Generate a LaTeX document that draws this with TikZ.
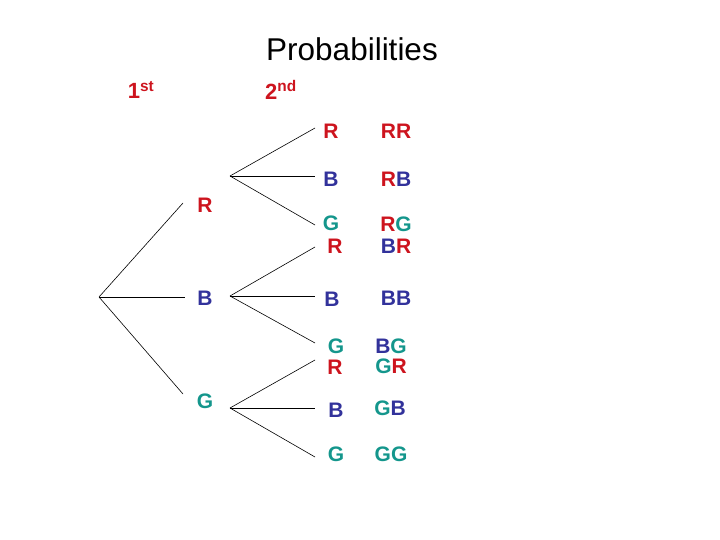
\documentclass[tikz,border=0pt]{standalone}
\usepackage{fontspec}
\setmainfont{Liberation Sans}
\usepackage{xcolor}
\usepackage{tikz}
\definecolor{ballred}{RGB}{205,20,30}
\definecolor{ballblue}{RGB}{50,50,155}
\definecolor{ballgreen}{RGB}{20,150,140}
\newcommand{\cR}{{\color{ballred}R}}
\newcommand{\cB}{{\color{ballblue}B}}
\newcommand{\cG}{{\color{ballgreen}G}}

\begin{document}
\begin{tikzpicture}[
  x=1pt, y=-1pt,
  lbl/.style={inner sep=0pt, font=\fontsize{21}{24}\selectfont\bfseries},
  head/.style={inner sep=0pt, font=\fontsize{22}{26}\selectfont\bfseries, text=ballred},
  branch/.style={line width=0.6pt}
]
  \useasboundingbox (0,0) rectangle (720,540);
  \node[inner sep=0pt, font=\fontsize{31.5}{36}\selectfont] (title) at (352,49) {Probabilities};
  \node[head] (first)  at (141,90) {1\textsuperscript{st}};
  \node[head] (second) at (281,90) {2\textsuperscript{nd}};

  % first draw
  \coordinate (root) at (99,297);
  \coordinate (r1) at (183,203);
  \coordinate (b1) at (185,297);
  \coordinate (g1) at (183,394);
  \node[lbl] (R) at (205,205) {\cR};
  \node[lbl] (B) at (205,298) {\cB};
  \node[lbl] (G) at (205,401) {\cG};
  \draw[branch] (root) -- (r1);
  \draw[branch] (root) -- (b1);
  \draw[branch] (root) -- (g1);

  % second draw after R
  \coordinate (rs) at (230,176);
  \coordinate (rr) at (315,128);
  \coordinate (rb) at (315,176);
  \coordinate (rg) at (315,225);
  \draw[branch] (rs) -- (rr);
  \draw[branch] (rs) -- (rb);
  \draw[branch] (rs) -- (rg);
  \node[lbl] (RR2) at (331,131) {\cR};
  \node[lbl] (RB2) at (331,179) {\cB};
  \node[lbl] (RG2) at (331,223) {\cG};
  \node[lbl] (RR) at (396,131) {\cR\cR};
  \node[lbl] (RB) at (396,179) {\cR\cB};
  \node[lbl] (RG) at (396,224) {\cR\cG};

  % second draw after B
  \coordinate (bs) at (230,296);
  \coordinate (br) at (315,247);
  \coordinate (bb) at (315,296);
  \coordinate (bg) at (315,343);
  \draw[branch] (bs) -- (br);
  \draw[branch] (bs) -- (bb);
  \draw[branch] (bs) -- (bg);
  \node[lbl] (BR2) at (335,246) {\cR};
  \node[lbl] (BB2) at (332,299) {\cB};
  \node[lbl] (BG2) at (336,346) {\cG};
  \node[lbl] (BR) at (396,246) {\cB\cR};
  \node[lbl] (BB) at (396,298) {\cB\cB};
  \node[lbl] (BG) at (391,346) {\cB\cG};

  % second draw after G
  \coordinate (gs) at (230,408);
  \coordinate (gr) at (315,360);
  \coordinate (gb) at (315,408);
  \coordinate (gg) at (315,457);
  \draw[branch] (gs) -- (gr);
  \draw[branch] (gs) -- (gb);
  \draw[branch] (gs) -- (gg);
  \node[lbl] (GR2) at (335,367) {\cR};
  \node[lbl] (GB2) at (336,410) {\cB};
  \node[lbl] (GG2) at (336,454) {\cG};
  \node[lbl] (GR) at (391,366) {\cG\cR};
  \node[lbl] (GB) at (390,408) {\cG\cB};
  \node[lbl] (GG) at (391,454) {\cG\cG};
\end{tikzpicture}
\end{document}
